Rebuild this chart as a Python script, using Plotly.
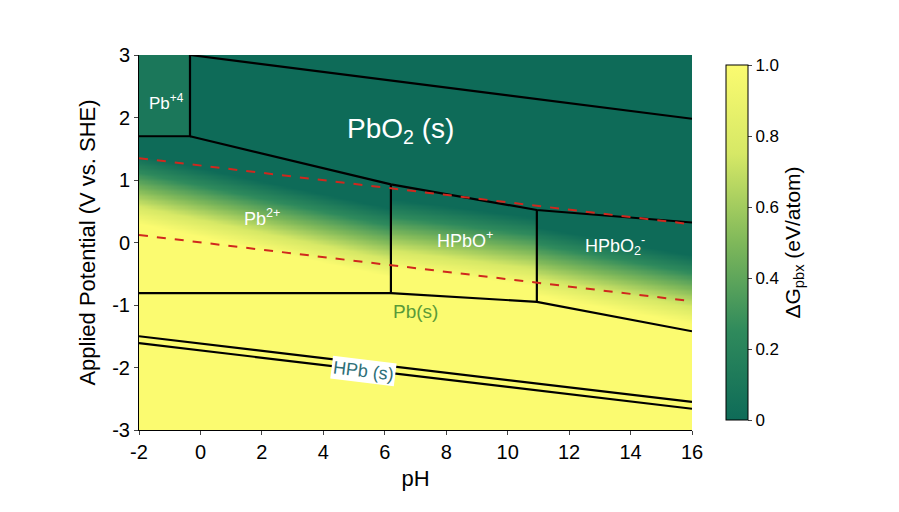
import numpy as np
import plotly.graph_objects as go

# phase boundaries (pH, E)
pbo2_top_ph = [-0.34, 16]
pbo2_top_e = [3.0, 1.98]
pb4_ph = [-2, -0.34, -0.34]
pb4_e = [1.70, 1.70, 3.0]
pbo2_low_ph = [-0.34, 6.2, 10.95, 16]
pbo2_low_e = [1.70, 0.93, 0.52, 0.32]
v1_ph = [6.2, 6.2]
v1_e = [0.93, -0.81]
v2_ph = [10.95, 10.95]
v2_e = [0.52, -0.95]
pb_top_ph = [-2, 6.2, 10.95, 16]
pb_top_e = [-0.81, -0.81, -0.95, -1.42]
hpb_a_ph = [-2, 16]
hpb_a_e = [-1.50, -2.55]
hpb_b_ph = [-2, 16]
hpb_b_e = [-1.61, -2.66]
# water stability lines
h2o_top_ph = [-2, 16]
h2o_top_e = [1.35, 0.29]
h2o_low_ph = [-2, 16]
h2o_low_e = [0.12, -0.94]
# middle of the green-to-yellow shading in the aqueous regions
mid_ph = [-2, 6.2, 6.21, 10.95, 10.96, 16]
mid_e = [0.85, 0.0, 0.15, -0.15, -0.3, -0.75]

ph = np.linspace(-2, 16, 361)
e = np.linspace(-3, 3, 301)
P, E = np.meshgrid(ph, e)
z = np.clip(0.5 + (np.interp(P, mid_ph, mid_e) - E) / 1.1, 0, 1)
z = np.where(E > np.interp(P, pbo2_low_ph, pbo2_low_e), 0.0, z)
z = np.where((P < -0.34) & (E > 1.70), 0.1, z)
z = np.where(E < np.interp(P, pb_top_ph, pb_top_e), 1.0, z)

fig = go.Figure()
fig.add_trace(go.Heatmap(
    x=ph, y=e, z=z, zmin=0, zmax=1, zsmooth='best',
    colorscale=[[0, '#0e6b58'], [0.25, '#2f8a5c'], [0.5, '#7fb85a'], [0.75, '#d6e866'], [1, '#fbfb70']],
    colorbar=dict(x=1.0, xpad=34, xanchor='left', len=1, y=0.5, thickness=22,
                  outlinecolor='black', outlinewidth=1,
                  tickvals=[0, 0.2, 0.4, 0.6, 0.8, 1.0], ticktext=['0', '0.2', '0.4', '0.6', '0.8', '1.0'],
                  tickfont=dict(size=17, color='black'), ticks='outside', ticklen=4,
                  title=dict(text='ΔG<sub>pbx</sub> (eV/atom)', side='right', font=dict(size=21, color='black'))),
))

for xs, ys in [(pbo2_top_ph, pbo2_top_e), (pb4_ph, pb4_e), (pbo2_low_ph, pbo2_low_e),
               (v1_ph, v1_e), (v2_ph, v2_e), (pb_top_ph, pb_top_e),
               (hpb_a_ph, hpb_a_e), (hpb_b_ph, hpb_b_e)]:
    fig.add_trace(go.Scatter(x=xs, y=ys, mode='lines', line=dict(color='black', width=2.2),
                             showlegend=False, hoverinfo='skip'))
for xs, ys in [(h2o_top_ph, h2o_top_e), (h2o_low_ph, h2o_low_e)]:
    fig.add_trace(go.Scatter(x=xs, y=ys, mode='lines', line=dict(color='#d0281e', width=2, dash='dash'),
                             showlegend=False, hoverinfo='skip'))

labels = [
    ('Pb<sup>+4</sup>', -1.1, 2.25, 17, 'white'),
    ('PbO<sub>2</sub> (s)', 6.5, 1.8, 28, 'white'),
    ('Pb<sup>2+</sup>', 2.0, 0.4, 18, 'white'),
    ('HPbO<sup>+</sup>', 8.6, 0.05, 18, 'white'),
    ('HPbO<sub>2</sub><sup>-</sup>', 13.5, -0.05, 18, 'white'),
    ('Pb(s)', 7.0, -1.1, 19, '#5a9a38'),
]
for t, x, y, s, c in labels:
    fig.add_annotation(x=x, y=y, text=t, showarrow=False, font=dict(size=s, color=c, family='Arial'))
fig.add_annotation(x=5.3, y=-2.05, text='HPb (s)', showarrow=False, textangle=7,
                   bgcolor='white', font=dict(size=18, color='#2e6f78', family='Arial'))

xt = list(range(-2, 17, 2))
yt = list(range(-3, 4))
fig.update_layout(
    width=899, height=512, margin=dict(l=131, r=215, t=47, b=90),
    paper_bgcolor='white', plot_bgcolor='white', font=dict(family='Arial', color='black'),
    xaxis=dict(range=[-2, 16], tickvals=xt, ticktext=[str(v) for v in xt], ticks='outside', ticklen=4,
               showgrid=False, zeroline=False, showline=True, linecolor='black', automargin=False,
               tickfont=dict(size=20), title=dict(text='pH', font=dict(size=22), standoff=8)),
    yaxis=dict(range=[-3, 3], tickvals=yt, ticktext=[str(v) for v in yt], ticks='outside', ticklen=4,
               showgrid=False, zeroline=False, showline=True, linecolor='black', automargin=False,
               tickfont=dict(size=20), title=dict(text='Applied Potential (V vs. SHE)', font=dict(size=22), standoff=10)),
)
fig.write_html("out.html")
